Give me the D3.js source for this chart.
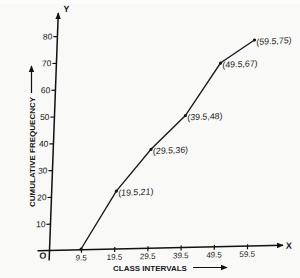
<!DOCTYPE html>
<html>
<head>
<meta charset="utf-8">
<script src="https://cdn.jsdelivr.net/npm/d3@7"></script>
<style>
  html, body { margin: 0; padding: 0; background: #f9f9f7; }
  svg { display: block; }
  text { font-family: "Liberation Sans", Arial, sans-serif; fill: #1a1a1a; }
</style>
</head>
<body>
<svg id="chart" width="300" height="278"></svg>
<script>
// ---- data ----
const classMarks = [9.5, 19.5, 29.5, 39.5, 49.5, 59.5];
const cumFreq    = [0, 21, 36, 48, 67, 75];
const xTickValues = [9.5, 19.5, 29.5, 39.5, 49.5, 59.5];
const yTickValues = [10, 20, 30, 40, 50, 60, 70, 80];
const xTitle = "CLASS INTERVALS";
const yTitle = "CUMULATIVE FREQUECNCY";

// ---- layout ----
const W = 300, H = 278;
const ox = 49.5, oy = 250.5;
const x = d3.scaleLinear().domain([0, 70]).range([ox, ox + 70 * 3.32]);
const y = d3.scaleLinear().domain([0, 88]).range([oy, oy - 88 * 2.68]);

const svg = d3.select("#chart");
svg.append("rect").attr("width", W).attr("height", H).attr("fill", "#f9f9f7");
svg.append("rect").attr("width", W).attr("height", 4).attr("fill", "#fdfdfd");

const defs = svg.append("defs");
defs.append("marker").attr("id", "arr")
  .attr("viewBox", "0 0 10 10").attr("refX", 9).attr("refY", 5)
  .attr("markerWidth", 7).attr("markerHeight", 7).attr("markerUnits", "userSpaceOnUse")
  .attr("orient", "auto")
  .append("path").attr("d", "M0,1 L10,5 L0,9 Z").attr("fill", "#111");

// slight shear (scanned page look)
function shear(kx, m) {
  return `matrix(1,${-m},${-kx},1,${kx * oy},${m * ox})`;
}

// ---- axes ----
const ax = svg.append("g").attr("transform", shear(0.037, 0.022));

// y axis line
ax.append("line").attr("x1", ox).attr("x2", ox).attr("y1", oy + 10).attr("y2", 13)
  .attr("stroke", "#111").attr("stroke-width", 1.5).attr("marker-end", "url(#arr)");
// x axis line
ax.append("line").attr("x1", ox - 12).attr("x2", 283).attr("y1", oy).attr("y2", oy)
  .attr("stroke", "#111").attr("stroke-width", 1.5).attr("marker-end", "url(#arr)");

const yAxis = ax.append("g").attr("transform", `translate(${ox},0)`)
  .call(d3.axisLeft(y).tickValues(yTickValues).tickSize(4).tickPadding(1).tickFormat(d3.format("d")));
yAxis.select(".domain").remove();
yAxis.selectAll("line").attr("stroke", "#111").attr("stroke-width", 1.2);
yAxis.selectAll("text").attr("font-size", 8.5).attr("font-family", "Liberation Sans, Arial, sans-serif").attr("fill", "#1a1a1a");

const xAxis = ax.append("g").attr("transform", `translate(0,${oy})`)
  .call(d3.axisBottom(x).tickValues(xTickValues).tickSize(3).tickPadding(2).tickFormat(d => d.toFixed(1)));
xAxis.select(".domain").remove();
xAxis.selectAll("line").attr("stroke", "#111").attr("stroke-width", 1.2).attr("y1", -2);
xAxis.selectAll("text").attr("font-size", 8).attr("font-family", "Liberation Sans, Arial, sans-serif").attr("fill", "#1a1a1a");

ax.append("text").attr("x", ox - 10).attr("y", oy + 8).attr("font-size", 9).attr("font-weight", "bold").text("O");
ax.append("text").attr("x", ox + 8).attr("y", 12).attr("font-size", 9).attr("font-weight", "bold")
  .attr("text-anchor", "middle").text("Y");
ax.append("text").attr("x", 286).attr("y", oy + 3.5).attr("font-size", 9).attr("font-weight", "bold").text("X");

// titles
svg.append("text").attr("x", 113).attr("y", 271).attr("font-size", 8).attr("font-weight", "bold").text(xTitle);
svg.append("line").attr("x1", 193).attr("x2", 227).attr("y1", 267.5).attr("y2", 267.5)
  .attr("stroke", "#111").attr("stroke-width", 1.2).attr("marker-end", "url(#arr)");

svg.append("text").attr("transform", "translate(35,207) rotate(-90)")
  .attr("font-size", 8).attr("font-weight", "bold").text(yTitle);
svg.append("line").attr("x1", 31.5).attr("x2", 31.5).attr("y1", 93).attr("y2", 66)
  .attr("stroke", "#111").attr("stroke-width", 1.2).attr("marker-end", "url(#arr)");

// ---- data ----
const data = classMarks.map((c, i) => ({ c, f: cumFreq[i] }));
const dg = svg.append("g").attr("transform", shear(0.037, 0.048));

dg.append("path").datum(data)
  .attr("d", d3.line().x(d => x(d.c)).y(d => y(d.f)))
  .attr("fill", "none").attr("stroke", "#1a1a1a").attr("stroke-width", 1.4);

dg.selectAll("circle").data(data).join("circle")
  .attr("cx", d => x(d.c)).attr("cy", d => y(d.f)).attr("r", 1.6).attr("fill", "#111");

dg.selectAll("text.lbl").data(data.filter(d => d.f > 0)).join("text")
  .attr("class", "lbl")
  .attr("x", d => x(d.c) + 2).attr("y", d => y(d.f) + 5)
  .attr("font-size", 8.8)
  .text(d => `(${d.c},${d.f})`);
</script>
</body>
</html>
